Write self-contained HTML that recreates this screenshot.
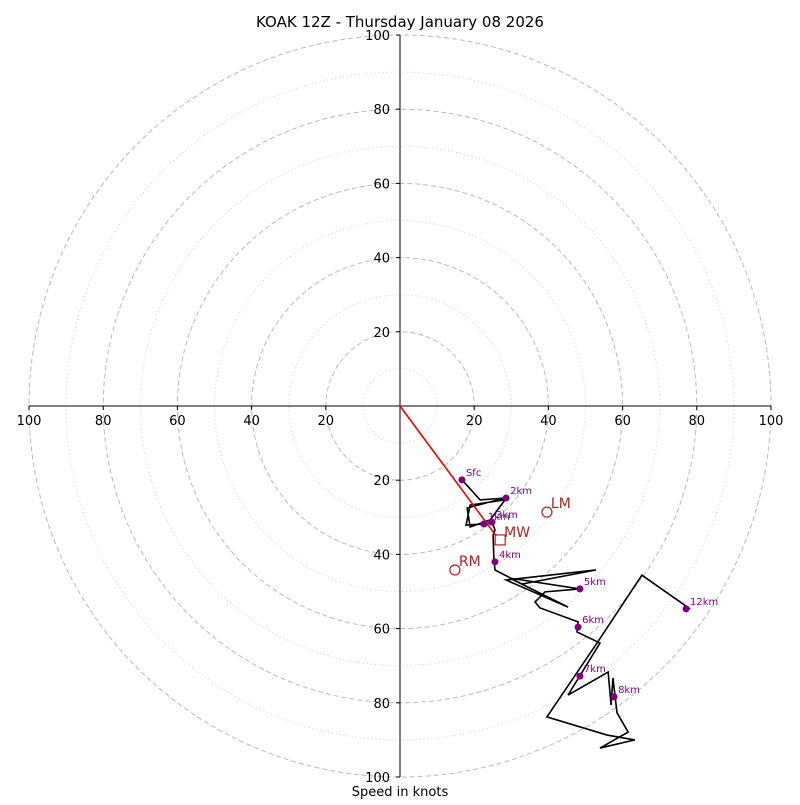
<!DOCTYPE html>
<html><head><meta charset="utf-8"><style>
body{margin:0;background:#fff}
svg text{font-family:"DejaVu Sans","Liberation Sans",sans-serif}
</style></head><body>
<svg id="c" width="800" height="800"></svg>
<script>
const ringsDashed=[20,40,60,80,100];
const ringsDotted=[10,30,50,70,90];
const tickVals=[20,40,60,80,100];
const pathU=[16.7,21.6,28.3,18.1,18.9,24.3,28.3,18.9,17.8,22.6,24.8,25.6,25.1,25.3,25.6,32.9,52.8,28.6,45.3,29.6,48.5,39.1,36.4,37.7,48.0,47.7,53.9,45.3,56.1,56.9,57.4,58.5,61.5,53.9,63.3,55.8,39.6,53.1,65.2,78.2];
const pathV=[-19.9,-25.3,-24.8,-27.5,-32.6,-30.7,-25.3,-26.7,-32.1,-31.8,-31.3,-33.4,-34.8,-41.0,-44.2,-48.0,-44.2,-46.9,-54.2,-46.4,-49.3,-50.1,-52.8,-54.4,-58.2,-60.9,-63.9,-77.9,-71.7,-80.6,-73.3,-82.7,-87.9,-92.2,-90.0,-88.7,-83.8,-63.9,-45.6,-54.7];
const markLabels=["Sfc","2km","1km","3km","4km","5km","6km","7km","8km","12km"];
const markU=[16.7,28.6,22.6,24.8,25.6,48.5,48.0,48.5,57.7,77.1];
const markV=[-19.9,-24.8,-31.8,-31.3,-42.0,-49.3,-59.6,-72.8,-78.4,-54.7];
const rmUV=[14.8,-44.2], lmUV=[39.6,-28.6], mwUV=[27.0,-36.1];
const cx=400,cy=406,s=3.71;
const X=u=>cx+u*s, Y=v=>cy-v*s;
const svg=document.getElementById('c');const NS='http://www.w3.org/2000/svg';
function mk(t,a,txt){const e=document.createElementNS(NS,t);for(const k in a)e.setAttribute(k,a[k]);if(txt!==undefined)e.textContent=txt;svg.appendChild(e);return e;}
ringsDotted.forEach(r=>{const e=mk('circle',{cx,cy,r:r*s,fill:'none',stroke:'#ccc','stroke-width':1,'stroke-dasharray':'1,3'});

});
ringsDashed.forEach(r=>{const e=mk('circle',{cx,cy,r:r*s,fill:'none',stroke:'#bbb','stroke-width':1,'stroke-dasharray':'5,3'});

});
let e=mk('line',{x1:X(-100),y1:cy,x2:X(100),y2:cy,stroke:'#000'});


e=mk('line',{x1:cx,y1:Y(100),x2:cx,y2:Y(-100),stroke:'#000'});


tickVals.forEach(t=>{
 [[X(t),cy],[X(-t),cy]].forEach(p=>{mk('line',{x1:p[0],y1:cy,x2:p[0],y2:cy+4,stroke:'#000'});
 const l=mk('text',{x:p[0],y:cy+19,'font-size':13,'text-anchor':'middle'},t);
 
 });
 [Y(t),Y(-t)].forEach(y=>{mk('line',{x1:cx,y1:y,x2:cx-4,y2:y,stroke:'#000'});
 const l=mk('text',{x:cx-10,y:y+5,'font-size':13,'text-anchor':'end'},t);
 
 });
});
e=mk('polyline',{points:pathU.map((u,i)=>X(u)+','+Y(pathV[i])).join(' '),fill:'none',stroke:'#000','stroke-width':1.6});


e=mk('line',{x1:cx,y1:cy,x2:X(mwUV[0])-4,y2:Y(mwUV[1])-4,stroke:'#e00','stroke-width':1.6});


markLabels.forEach((t,i)=>{
 const d=mk('circle',{cx:X(markU[i]),cy:Y(markV[i]),r:3.5,fill:'#800080'});
 
 
 const l=mk('text',{x:X(markU[i])+4,y:Y(markV[i])-4,'font-size':10,fill:'#800080'},t);
 
 
});
[[rmUV,'RM'],[lmUV,'LM']].forEach(([p,t])=>{
 const c=mk('circle',{cx:X(p[0]),cy:Y(p[1]),r:5,fill:'none',stroke:'#b22222','stroke-width':1.2});
 
 
 const l=mk('text',{x:X(p[0])+4,y:Y(p[1])-4,'font-size':14,fill:'#b22222'},t);
 
 
});
e=mk('rect',{x:X(mwUV[0])-5,y:Y(mwUV[1])-5,width:10,height:10,fill:'none',stroke:'#b22222','stroke-width':1.2});


e=mk('text',{x:X(mwUV[0])+4,y:Y(mwUV[1])-3,'font-size':14,fill:'#b22222'},'MW');


e=mk('text',{x:400,y:27,'font-size':15,'text-anchor':'middle'},'KOAK 12Z - Thursday January 08 2026');


e=mk('text',{x:400,y:796,'font-size':13,'text-anchor':'middle'},'Speed in knots');


</script>
</body></html>
